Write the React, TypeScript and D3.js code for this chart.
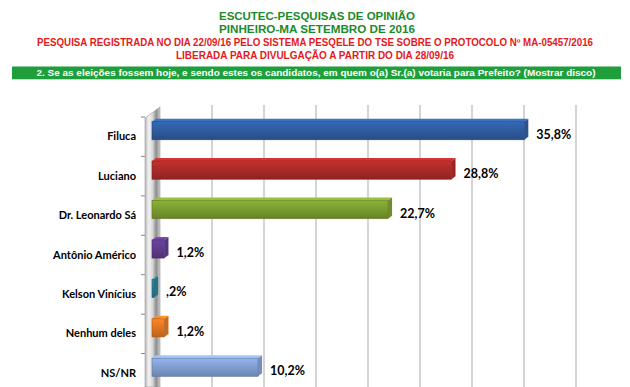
import * as d3 from 'd3'

const categories = ['Filuca', 'Luciano', 'Dr. Leonardo Sá', 'Antônio Américo', 'Kelson Vinícius', 'Nenhum deles', 'NS/NR']
const values = [35.8, 28.8, 22.7, 1.2, 0.2, 1.2, 10.2]
const valueLabels = ['35,8%', '28,8%', '22,7%', '1,2%', ',2%', '1,2%', '10,2%']
const barColors = ['#2f5d9f', '#ab2b28', '#7b9d2f', '#603b8e', '#2b8098', '#e2761f', '#819fd2']
const gridTicks = [5, 10, 15, 20, 25, 30, 35, 40]

const titleLines = ['ESCUTEC-PESQUISAS DE OPINIÃO', 'PINHEIRO-MA SETEMBRO DE 2016']
const redLines = [
  'PESQUISA REGISTRADA NO DIA 22/09/16 PELO SISTEMA PESQELE DO TSE SOBRE O PROTOCOLO Nº MA-05457/2016',
  'LIBERADA PARA DIVULGAÇÃO A PARTIR DO DIA 28/09/16',
]
const question = '2. Se as eleições fossem hoje, e sendo estes os candidatos, em quem o(a) Sr.(a) votaria para Prefeito? (Mostrar disco)'

export default function App() {
  const width = 630
  const height = 387
  const depth = 4

  const x = d3.scaleLinear().domain([0, 40]).range([152, 568])
  const y = d3.scaleBand<string>()
    .domain(categories)
    .range([111, 387])
    .paddingInner(0.54)
    .paddingOuter(0.27)
  const bh = y.bandwidth()
  const step = y.step()

  const wallGrad = ['#b8b8b8', '#f2f2f2', '#d8d8d8', '#8c8c8c', '#cfcfcf']

  return (
    <svg width={width} height={height} style={{position: 'absolute', left: 0, top: 0}}
      fontFamily={'"Liberation Sans", Arial, sans-serif'}>
      <defs>
        <linearGradient id="wall" x1="0" x2="1" y1="0" y2="0">
          {wallGrad.map((c, i) => (
            <stop key={i} offset={i / (wallGrad.length - 1)} stopColor={c} />
          ))}
        </linearGradient>
        {barColors.map((c, i) => (
          <linearGradient key={i} id={`bar${i}`} x1="0" x2="0" y1="0" y2="1">
            <stop offset="0" stopColor={d3.color(c)!.brighter(0.35).formatHex()} />
            <stop offset="0.45" stopColor={c} />
            <stop offset="1" stopColor={d3.color(c)!.darker(0.5).formatHex()} />
          </linearGradient>
        ))}
      </defs>
      <rect width={width} height={height} fill="#fff" />

      {/* header */}
      <g textAnchor="middle" fontWeight={700}>
        {titleLines.map((t, i) => (
          <text key={t} x={317} y={20 + i * 13.3} fontSize={11.5} fill="#1d8a2d"
            textLength={196} lengthAdjust="spacingAndGlyphs">{t}</text>
        ))}
        {redLines.map((t, i) => (
          <text key={t} x={315} y={45.7 + i * 12.8} fontSize={10} fill="#e3191b"
            textLength={i === 0 ? 556 : 278} lengthAdjust="spacingAndGlyphs">{t}</text>
        ))}
      </g>
      <rect x={12} y={66.5} width={609} height={12.8} fill="#1f9e3c" />
      <text x={316} y={76.2} textAnchor="middle" fontSize={9.5} fontWeight={700} fill="#fff"
        textLength={559} lengthAdjust="spacingAndGlyphs">{question}</text>

      {/* gridlines */}
      {gridTicks.map(t => (
        <line key={t} x1={x(t) + 8} x2={x(t) + 8} y1={105} y2={387} stroke="#a9a9a9" strokeWidth={1} />
      ))}

      {/* wall */}
      <path d={`M145,118 L160,107 L160,${height} L145,${height} Z`} fill="url(#wall)" stroke="#9a9a9a" strokeWidth={0.6} />
      {d3.range(categories.length + 1).map(i => {
        const ty = 111 + step * 0.27 * 0 + i * step + 6
        return <line key={i} x1={141} x2={145} y1={ty} y2={ty} stroke="#888" />
      })}

      {/* bars */}
      {categories.map((c, i) => {
        const y0 = y(c)!
        const x0 = x(0)
        const x1 = Math.max(x(values[i]), x0 + 1.5)
        const col = d3.color(barColors[i])!
        const top = `M${x0},${y0} L${x0 + depth},${y0 - 3} L${x1 + depth},${y0 - 3} L${x1},${y0} Z`
        const side = `M${x1},${y0} L${x1 + depth},${y0 - 3} L${x1 + depth},${y0 + bh - 3} L${x1},${y0 + bh} Z`
        return (
          <g key={c}>
            <path d={top} fill={col.brighter(0.6).formatHex()} />
            <path d={side} fill={col.darker(0.3).formatHex()} />
            <rect x={x0} y={y0} width={x1 - x0} height={bh} fill={`url(#bar${i})`} />
            <rect x={x0} y={y0} width={x1 - x0} height={bh} fill="none"
              stroke={col.darker(0.8).formatHex()} strokeWidth={0.6} />
          </g>
        )
      })}

      {/* category labels */}
      <g fontFamily="Lato, 'Open Sans', sans-serif" fontWeight={700} fill="#000">
        {categories.map(c => (
          <text key={c} x={136} y={y(c)! + bh / 2 + 9.5} textAnchor="end" fontSize={11}>{c}</text>
        ))}
        {categories.map((c, i) => (
          <text key={c} x={Math.max(x(values[i]), x(0) + 1.5) + 12} y={y(c)! + bh / 2 + 8} fontSize={12.5}>
            {valueLabels[i]}
          </text>
        ))}
      </g>
    </svg>
  )
}
